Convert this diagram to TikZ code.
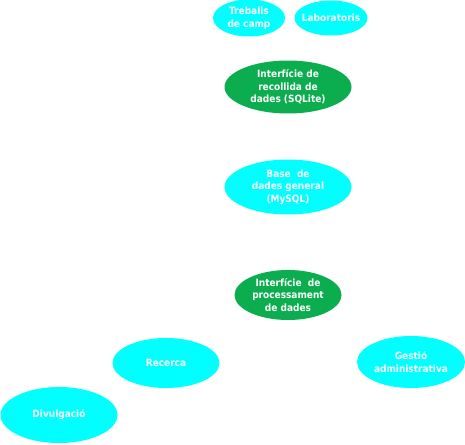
\documentclass[tikz,border=0pt]{standalone}
\usepackage{fontspec}
\setmainfont{DejaVu Sans}
\newfontfamily\lblfont{DejaVu Sans Condensed}[BoldFont={DejaVu Sans Condensed Bold}]
\usetikzlibrary{shapes.geometric}
\definecolor{cyanfill}{HTML}{00FFFF}
\definecolor{greenfill}{HTML}{0BAD4F}
\tikzset{
  lbltext/.style={inner sep=0pt, text=white, align=center,
    font=\lblfont\bfseries\fontsize{10}{12.5}\selectfont},
  ell/.style={ellipse, inner sep=0pt, label={[lbltext]center:#1}},
  cyanell/.style={ell=#1, fill=cyanfill},
  greenell/.style={ell=#1, fill=greenfill}
}
\begin{document}
\begin{tikzpicture}[x=1pt,y=-1pt]
\useasboundingbox (0,0) rectangle (465,444);
\node[cyanell={Treballs\\de camp}, minimum width=72pt, minimum height=37pt] (treballs) at (249,18) {};
\node[cyanell={Laboratoris}, minimum width=73pt, minimum height=35pt] (labs) at (331,18) {};
\node[greenell={Interfície de\\recollida de\\dades (SQLite)}, minimum width=127pt, minimum height=53pt] (recollida) at (288,87) {};
\node[cyanell={Base\ \ de\\dades general\\(MySQL)}, minimum width=127pt, minimum height=55pt] (base) at (288,187) {};
\node[greenell={Interfície\ \ de\\processament\\de dades}, minimum width=107pt, minimum height=50pt] (proces) at (288,295) {};
\node[cyanell={Recerca}, minimum width=107pt, minimum height=50pt] (recerca) at (166,363) {};
\node[cyanell={Divulgació}, minimum width=117pt, minimum height=56pt] (divulg) at (59,415) {};
\node[cyanell={Gestió\\administrativa}, minimum width=108pt, minimum height=52pt] (gestio) at (411,362) {};
\end{tikzpicture}
\end{document}
